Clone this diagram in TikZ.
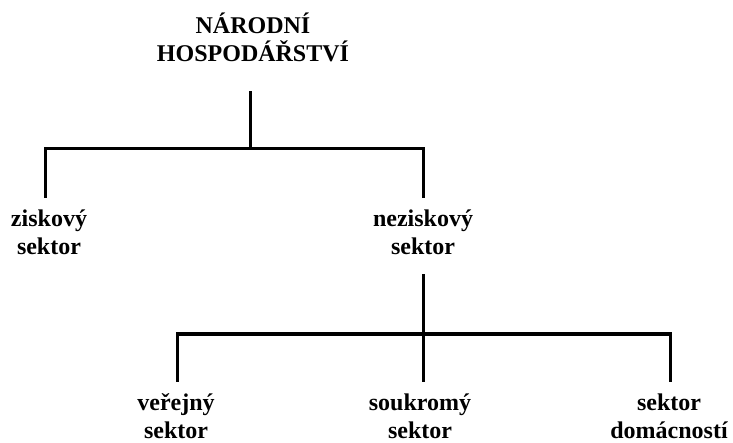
\documentclass[tikz,border=0pt]{standalone}
\usepackage{fontspec}
\setmainfont{Liberation Serif}
\begin{document}
\begin{tikzpicture}[x=1pt,y=1pt,
  lbl/.style={align=center,inner sep=0pt,anchor=base,font=\bfseries\fontsize{24}{28}\selectfont},
  conn/.style={line width=3pt,line cap=rect}]
\useasboundingbox (0,0) rectangle (733,-443);
% nodes (base anchor = baseline of last line)
\node[lbl] (root) at (253,-62) {NÁRODNÍ\\HOSPODÁŘSTVÍ};
\node[lbl] (zisk) at (49,-255) {ziskový\\sektor};
\node[lbl] (nezisk) at (423,-255) {neziskový\\sektor};
\node[lbl] (verej) at (176,-438) {veřejný\\sektor};
\node[lbl] (soukr) at (420,-438) {soukromý\\sektor};
\node[lbl] (domac) at (669,-438) {sektor\\domácností};
% junction coordinates
\coordinate (rootstem) at (250,-93);
\coordinate (hubA) at (250,-149);
\coordinate (ziskC) at (45,-149);
\coordinate (ziskE) at (45,-197);
\coordinate (nezC) at (423,-149);
\coordinate (nezE) at (423,-197);
\coordinate (nezstem) at (423,-276);
\coordinate (hubB) at (423,-334);
\coordinate (verC) at (177,-334);
\coordinate (verE) at (177,-380);
\coordinate (souE) at (423,-380);
\coordinate (domC) at (670,-334);
\coordinate (domE) at (670,-380);
% connectors
\draw[conn] (rootstem) -- (hubA);
\draw[conn] (ziskE) -- (ziskC) -- (nezC) -- (nezE);
\draw[conn] (nezstem) -- (hubB) -- (souE);
\draw[conn] (verE) -- (verC) -- (domC) -- (domE);
\end{tikzpicture}
\end{document}
